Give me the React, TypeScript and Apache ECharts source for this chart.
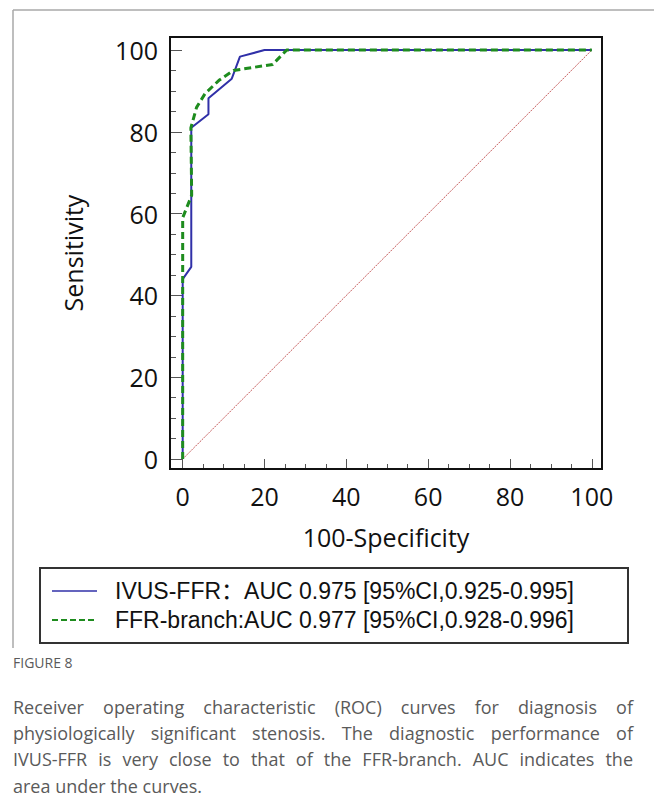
import React, { useEffect, useRef } from "react";
import * as echarts from "echarts";

// ---- data ----
const ivusX = [0, 0, 2.1, 2.1, 6.3, 6.3, 12, 14, 20, 100];
const ivusY = [0, 44, 47, 81, 84.3, 88.2, 93, 98.4, 100, 100];
const branchX = [0, 0, 2.2, 2, 3.4, 5.5, 9, 12.4, 22, 25.4, 100];
const branchY = [0, 59, 64.5, 81, 86, 89.4, 92.7, 95, 96.5, 100, 100];
const diagX = [0, 100];
const diagY = [0, 100];
const majorTicks = [0, 20, 40, 60, 80, 100];
const minorTicks = [5, 10, 15, 25, 30, 35, 45, 50, 55, 65, 70, 75, 85, 90, 95];
const seriesNames = [
  "IVUS-FFR：AUC 0.975 [95%CI,0.925-0.995]",
  "FFR-branch:AUC 0.977 [95%CI,0.928-0.996]",
];
const xAxisTitle = "100-Specificity";
const yAxisTitle = "Sensitivity";
const figureLabel = "FIGURE 8";
const captionLines = [
  "Receiver operating characteristic (ROC) curves for diagnosis of",
  "physiologically significant stenosis. The diagnostic performance of",
  "IVUS-FFR is very close to that of the FFR-branch. AUC indicates the",
  "area under the curves.",
];

const FONT = "'Open Sans', 'Noto Sans CJK SC', sans-serif";
const LEGEND_FONT = "'Liberation Sans', 'Noto Sans CJK SC', sans-serif";
const BLUE = "#3030a8";
const GREEN = "#1e8c1e";

function pairs(xs: number[], ys: number[]) {
  return xs.map((x, i) => [x, ys[i]]);
}

function buildCaption(): any[] {
  const els: any[] = [];
  const fontSize = 18;
  const left = 13;
  const right = 633;
  const top0 = 707;
  const step = 26.2;
  const canvas = document.createElement("canvas");
  const ctx = canvas.getContext("2d")!;
  ctx.font = `${fontSize}px 'Open Sans'`;
  captionLines.forEach((line, li) => {
    const y = top0 + li * step;
    const style = { fill: "#5a5a5a", fontSize, lineHeight: 22, fontFamily: FONT, verticalAlign: "middle" };
    if (li === captionLines.length - 1) {
      els.push({ type: "text", x: left, y, style: { ...style, text: line, align: "left" } });
      return;
    }
    const words = line.split(" ");
    const widths = words.map((w) => ctx.measureText(w).width);
    const total = widths.reduce((a, b) => a + b, 0);
    const gap = (right - left - total) / (words.length - 1);
    let x = left;
    words.forEach((w, wi) => {
      els.push({ type: "text", x, y, style: { ...style, text: w, align: "left" } });
      x += widths[wi] + gap;
    });
  });
  return els;
}

const X_MIN = -3.1;
const X_MAX = 102.5;
const Y_MIN = -2.44;
const Y_MAX = 103.2;

export default function App() {
  const ref = useRef<HTMLDivElement>(null);
  useEffect(() => {
    if (!ref.current) return;
    const chart = echarts.init(ref.current, undefined, { renderer: "svg" });
    const tickStyle = { color: "#555", width: 1 };
    const noLine = { show: false, onZero: false };
    const option: any = {
      animation: false,
      backgroundColor: "#ffffff",
      textStyle: { fontFamily: FONT },
      grid: { left: 170, top: 37, width: 432, height: 432, containLabel: false },
      xAxis: [
        {
          type: "value",
          min: X_MIN,
          max: X_MAX,
          position: "bottom",
          axisLine: noLine,
          axisTick: { show: true, inside: true, length: 10, lineStyle: tickStyle, customValues: majorTicks },
          splitLine: { show: false },
          axisLabel: { fontSize: 25, color: "#111", margin: 14, fontFamily: FONT, customValues: majorTicks },
          name: xAxisTitle,
          nameLocation: "middle",
          nameGap: 55,
          nameTextStyle: { fontSize: 25, color: "#111", fontFamily: FONT },
        },
        {
          type: "value",
          min: X_MIN,
          max: X_MAX,
          position: "bottom",
          axisLine: noLine,
          axisTick: { show: true, inside: true, length: 5, lineStyle: tickStyle, customValues: minorTicks },
          splitLine: { show: false },
          axisLabel: { show: false },
        },
      ],
      yAxis: [
        {
          type: "value",
          min: Y_MIN,
          max: Y_MAX,
          position: "left",
          axisLine: noLine,
          axisTick: { show: true, inside: true, length: 12, lineStyle: tickStyle, customValues: majorTicks },
          splitLine: { show: false },
          axisLabel: { fontSize: 25, color: "#111", margin: 12, fontFamily: FONT, customValues: majorTicks },
          name: yAxisTitle,
          nameLocation: "middle",
          nameGap: 85,
          nameTextStyle: { fontSize: 25, color: "#111", fontFamily: FONT },
        },
        {
          type: "value",
          min: Y_MIN,
          max: Y_MAX,
          position: "left",
          axisLine: noLine,
          axisTick: { show: true, inside: true, length: 6, lineStyle: tickStyle, customValues: minorTicks },
          splitLine: { show: false },
          axisLabel: { show: false },
        },
      ],
      series: [
        {
          name: "diagonal",
          type: "line",
          data: pairs(diagX, diagY),
          symbol: "none",
          silent: true,
          lineStyle: { color: "#c45a5a", width: 1, type: [2, 1] },
          z: 1,
        },
        {
          name: seriesNames[0],
          type: "line",
          data: pairs(ivusX, ivusY),
          symbol: "none",
          lineStyle: { color: BLUE, width: 2 },
          itemStyle: { color: BLUE },
          z: 2,
        },
        {
          name: seriesNames[1],
          type: "line",
          data: pairs(branchX, branchY),
          symbol: "none",
          lineStyle: { color: GREEN, width: 3, type: [7, 4] },
          itemStyle: { color: GREEN },
          z: 3,
        },
      ],
      graphic: [
        { type: "line", shape: { x1: 13, y1: 10, x2: 654, y2: 10 }, style: { stroke: "#a8a8a8", lineWidth: 1.5 } },
        { type: "line", shape: { x1: 13, y1: 10, x2: 13, y2: 648 }, style: { stroke: "#a8a8a8", lineWidth: 1.5 } },
        { type: "rect", shape: { x: 170, y: 37, width: 432, height: 432 }, style: { fill: "none", stroke: "#111", lineWidth: 2 }, z: 10 },
        // legend box
        { type: "rect", shape: { x: 40, y: 568, width: 588, height: 75 }, style: { fill: "none", stroke: "#333", lineWidth: 2 } },
        { type: "line", shape: { x1: 52, y1: 591, x2: 97, y2: 591 }, style: { stroke: BLUE, lineWidth: 1.6 } },
        { type: "line", shape: { x1: 52, y1: 620, x2: 97, y2: 620 }, style: { stroke: GREEN, lineWidth: 2, lineDash: [6, 3] } },
        {
          type: "text",
          x: 115,
          y: 591,
          style: { text: seriesNames[0], fill: "#111", fontSize: 23, lineHeight: 26, fontFamily: LEGEND_FONT, verticalAlign: "middle" },
        },
        {
          type: "text",
          x: 115,
          y: 620,
          style: { text: seriesNames[1], fill: "#111", fontSize: 23, lineHeight: 26, fontFamily: LEGEND_FONT, verticalAlign: "middle" },
        },
        {
          type: "text",
          x: 13,
          y: 662,
          style: { text: figureLabel, fill: "#5a5a5a", fontSize: 14, fontFamily: FONT, verticalAlign: "middle" },
        },
        ...buildCaption(),
      ],
    };
    chart.setOption(option);
    return () => chart.dispose();
  }, []);
  return (
    <div
      ref={ref}
      style={{ position: "fixed", left: 0, top: 0, width: 654, height: 798, background: "#fff" }}
    />
  );
}
